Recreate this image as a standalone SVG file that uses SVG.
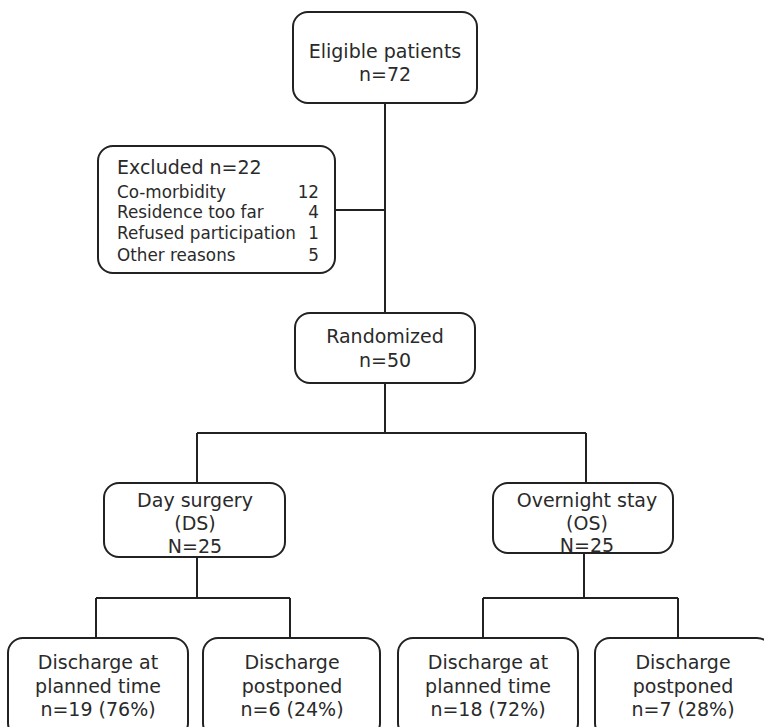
<svg xmlns="http://www.w3.org/2000/svg" width="764" height="727" viewBox="0 0 764 727">
<style>
.box{fill:#fff;stroke:#222;stroke-width:2}
.ln{fill:none;stroke:#222;stroke-width:2}
text{font-family:"DejaVu Sans",Verdana,sans-serif;font-size:19px;fill:#2a2a2a}
.c{text-anchor:middle}
.s{font-size:16.8px}
.r{text-anchor:end}
</style>
<rect width="764" height="727" fill="#fff"/>
<g id="connectors">
<path class="ln" d="M385,103 V313 M335,210 H385 M385,383 V433 M197,433 H586 M197,433 V483 M586,433 V483"/>
<path class="ln" d="M197,557 V598 M96,598 H290 M96,598 V638 M290,598 V638"/>
<path class="ln" d="M584,553 V598 M483,598 H678 M483,598 V638 M678,598 V638"/>
</g>
<g id="eligible">
<rect class="box" x="293" y="12" width="184" height="91" rx="15"/>
<text class="c" x="385" y="58">Eligible patients</text>
<text class="c" x="385" y="81">n=72</text>
</g>
<g id="excluded">
<rect class="box" x="98" y="146" width="237" height="127" rx="15"/>
<text x="117" y="174">Excluded n=22</text>
<text class="s" x="117" y="198">Co-morbidity</text>
<text class="s r" x="319" y="198">12</text>
<text class="s" x="117" y="218">Residence too far</text>
<text class="s r" x="319" y="218">4</text>
<text class="s" x="117" y="239">Refused participation</text>
<text class="s r" x="319" y="239">1</text>
<text class="s" x="117" y="261">Other reasons</text>
<text class="s r" x="319" y="261">5</text>
</g>
<g id="randomized">
<rect class="box" x="295" y="313" width="180" height="70" rx="15"/>
<text class="c" x="385" y="343">Randomized</text>
<text class="c" x="385" y="367">n=50</text>
</g>
<g id="ds">
<rect class="box" x="104" y="483" width="181" height="74" rx="15"/>
<text class="c" x="195" y="507">Day surgery</text>
<text class="c" x="195" y="530">(DS)</text>
<text class="c" x="195" y="553">N=25</text>
</g>
<g id="os">
<rect class="box" x="493" y="483" width="180" height="70" rx="15"/>
<text class="c" x="587" y="507">Overnight stay</text>
<text class="c" x="587" y="530">(OS)</text>
<text class="c" x="587" y="552">N=25</text>
</g>
<g id="ds-planned">
<rect class="box" x="8" y="638" width="180" height="100" rx="15"/>
<text class="c" x="98" y="669">Discharge at</text>
<text class="c" x="98" y="693">planned time</text>
<text class="c" x="98" y="716">n=19 (76%)</text>
</g>
<g id="ds-postponed">
<rect class="box" x="203" y="638" width="177" height="100" rx="15"/>
<text class="c" x="292" y="669">Discharge</text>
<text class="c" x="292" y="693">postponed</text>
<text class="c" x="292" y="716">n=6 (24%)</text>
</g>
<g id="os-planned">
<rect class="box" x="398" y="638" width="180" height="100" rx="15"/>
<text class="c" x="488" y="669">Discharge at</text>
<text class="c" x="488" y="693">planned time</text>
<text class="c" x="488" y="716">n=18 (72%)</text>
</g>
<g id="os-postponed">
<rect class="box" x="595" y="638" width="177" height="100" rx="15"/>
<text class="c" x="683" y="669">Discharge</text>
<text class="c" x="683" y="693">postponed</text>
<text class="c" x="683" y="716">n=7 (28%)</text>
</g>
</svg>
